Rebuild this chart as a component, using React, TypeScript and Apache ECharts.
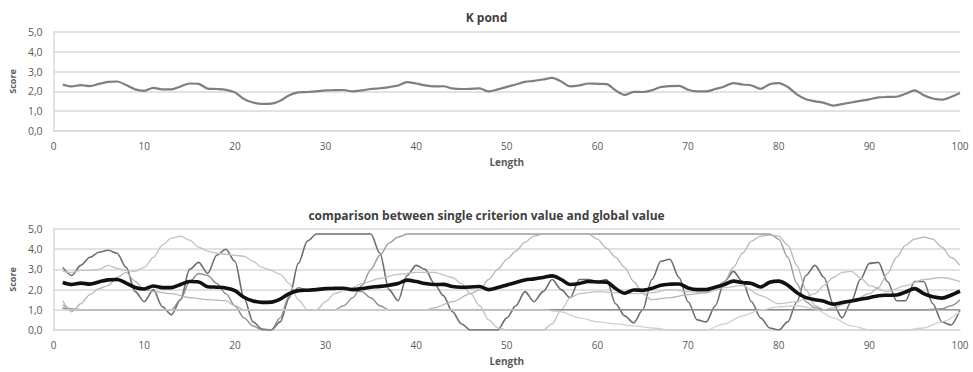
import React, { useEffect, useRef } from "react";
import * as echarts from "echarts";

const xTicks = [0, 10, 20, 30, 40, 50, 60, 70, 80, 90, 100];
const yTicks = [0, 1, 2, 3, 4, 5];

// global value (K pond), one value per length step 1..100
const kPond = [
  2.35, 2.25, 2.32, 2.27, 2.38, 2.48, 2.5, 2.32, 2.1, 2.03,
  2.18, 2.1, 2.1, 2.25, 2.4, 2.38, 2.14, 2.12, 2.08, 1.95,
  1.62, 1.44, 1.37, 1.38, 1.53, 1.8, 1.95, 1.97, 2.0, 2.05,
  2.06, 2.07, 2.0, 2.05, 2.12, 2.16, 2.22, 2.3, 2.47, 2.4,
  2.3, 2.25, 2.26, 2.15, 2.12, 2.13, 2.15, 2.0, 2.1, 2.23,
  2.35, 2.48, 2.53, 2.6, 2.68, 2.5, 2.25, 2.3, 2.4, 2.38,
  2.37, 2.05, 1.82, 1.98, 1.97, 2.06, 2.22, 2.27, 2.28, 2.08,
  2.0, 2.0, 2.12, 2.25, 2.42, 2.35, 2.3, 2.13, 2.36, 2.42,
  2.22, 1.85, 1.6, 1.5, 1.42, 1.28, 1.36, 1.44, 1.52, 1.6,
  1.7, 1.72, 1.73, 1.88, 2.05, 1.8, 1.64, 1.58, 1.72, 1.92,
];

// single criterion values, [length, score]
const critA = [
  [1, 3.1], [2, 2.7], [3, 3.2], [4, 3.6], [5, 3.85], [6, 3.95], [7, 3.8], [8, 3.1], [9, 1.9], [10, 1.4],
  [11, 2.0], [12, 1.15], [13, 0.75], [14, 1.5], [15, 3.0], [16, 3.35], [17, 2.8], [18, 3.7], [19, 4.0], [20, 3.4],
  [21, 1.6], [22, 0.4], [23, 0.05], [24, 0], [25, 0.4], [26, 1.6], [27, 3.3], [28, 4.4], [29, 4.75], [35, 4.75],
  [36, 3.8], [37, 2.0], [38, 1.45], [39, 2.7], [40, 3.2], [41, 3.0], [42, 2.3], [43, 1.7], [44, 0.9], [45, 0.3],
  [46, 0], [49, 0], [50, 0.6], [51, 1.2], [52, 1.9], [53, 1.4], [54, 1.9], [55, 2.5], [56, 2.0], [57, 1.6],
  [58, 2.5], [59, 2.5], [60, 2.4], [61, 2.5], [62, 1.3], [63, 0.7], [64, 0.35], [65, 1.0], [66, 2.5], [67, 3.4],
  [68, 3.5], [69, 2.6], [70, 1.4], [71, 0.5], [72, 0.4], [73, 1.2], [74, 2.4], [75, 2.9], [76, 2.4], [77, 1.4],
  [78, 0.6], [79, 0.1], [80, 0], [81, 0.4], [82, 1.4], [83, 2.7], [84, 3.2], [85, 2.6], [86, 1.3], [87, 0.6],
  [88, 1.4], [89, 2.5], [90, 3.3], [91, 3.35], [92, 2.4], [93, 1.45], [94, 1.45], [95, 2.4], [96, 2.4], [97, 1.3],
  [98, 0.4], [99, 0.25], [100, 1.0],
];
const critB = [
  [1, 2.9], [2, 2.85], [3, 2.95], [4, 2.95], [5, 3.0], [6, 3.2], [7, 3.05], [8, 2.95], [9, 2.9], [10, 3.1],
  [11, 3.6], [12, 4.2], [13, 4.55], [14, 4.65], [15, 4.45], [16, 4.1], [17, 3.9], [18, 3.8], [19, 3.75], [20, 3.7],
  [21, 3.65], [22, 3.4], [23, 3.1], [24, 2.95], [25, 2.75], [26, 2.3], [27, 1.5], [28, 1.0], [29, 1.0], [30, 1.4],
  [31, 1.8], [32, 1.95], [33, 2.1], [34, 2.3], [36, 2.55], [38, 2.75], [40, 2.85], [42, 2.85], [44, 2.6], [45, 2.3],
  [46, 1.8], [47, 1.2], [48, 0.5], [49, 0.1], [50, 0], [54, 0], [55, 0.3], [56, 1.0], [57, 1.6], [58, 1.8],
  [60, 1.9], [62, 1.85], [64, 1.8], [66, 1.85], [68, 2.0], [70, 1.9], [72, 1.85], [74, 2.1], [76, 2.2], [78, 1.7],
  [80, 1.3], [82, 1.4], [84, 1.8], [85, 2.2], [86, 2.6], [87, 2.85], [88, 2.9], [89, 2.6], [90, 2.2], [92, 1.9],
  [94, 2.2], [96, 2.5], [98, 2.6], [100, 2.4],
];
const critC = [
  [1, 1.1], [2, 1.0], [13, 1.0], [14, 1.5], [15, 2.4], [16, 2.8], [17, 2.7], [18, 2.3], [19, 1.8], [20, 1.2],
  [21, 0.6], [22, 0.2], [23, 0], [24, 0], [25, 0.6], [26, 1.7], [27, 2.1], [28, 2.0], [32, 2.05], [34, 1.9],
  [35, 1.6], [36, 1.2], [37, 1.0], [96, 1.0], [98, 1.05], [99, 1.2], [100, 1.5],
];
const critD = [
  [1, 1.25], [2, 1.05], [3, 1.0], [31, 1.0], [32, 1.2], [33, 1.6], [34, 2.2], [35, 3.0], [36, 3.7], [37, 4.3],
  [38, 4.6], [39, 4.75], [79, 4.75], [80, 4.5], [81, 3.6], [82, 2.3], [83, 1.4], [84, 1.1], [85, 1.0], [100, 1.0],
];
const critE = [
  [1, 1.45], [2, 0.9], [3, 1.3], [4, 1.75], [5, 2.05], [6, 2.2], [7, 2.6], [8, 2.85], [9, 2.4], [10, 2.0],
  [11, 1.9], [13, 1.8], [15, 1.6], [17, 1.5], [19, 1.45], [20, 1.2], [21, 1.0], [41, 1.0], [42, 1.1], [44, 1.4],
  [46, 1.8], [47, 2.0], [48, 2.5], [49, 3.0], [50, 3.5], [51, 3.9], [52, 4.35], [53, 4.65], [54, 4.75], [59, 4.75],
  [60, 4.5], [61, 4.05], [62, 3.6], [63, 3.1], [64, 2.4], [65, 1.8], [66, 1.5], [68, 1.6], [70, 1.75], [72, 1.85],
  [73, 2.1], [74, 2.4], [75, 3.1], [76, 3.8], [77, 4.4], [78, 4.65], [79, 4.7], [80, 4.65], [81, 4.2], [82, 3.2],
  [83, 2.0], [84, 1.2], [85, 1.0], [86, 1.1], [88, 1.4], [90, 1.8], [91, 2.1], [92, 2.8], [93, 3.6], [94, 4.2],
  [95, 4.5], [96, 4.6], [97, 4.5], [98, 4.1], [99, 3.6], [100, 3.2],
];
const critF = [
  [1, 1.0], [54, 1.0], [56, 0.9], [58, 0.6], [60, 0.4], [62, 0.3], [64, 0.2], [66, 0.1], [68, 0], [72, 0],
  [74, 0.3], [76, 0.7], [78, 1.0], [80, 1.15], [82, 1.2], [84, 1.05], [86, 0.6], [88, 0.2], [90, 0], [94, 0],
  [96, 0.1], [98, 0.4], [100, 0.9],
];

const criteria = [
  { name: "A", data: critA, color: "#6e6e6e", width: 1.6 },
  { name: "B", data: critB, color: "#c2c2c2", width: 1.3 },
  { name: "C", data: critC, color: "#8c8c8c", width: 1.4 },
  { name: "D", data: critD, color: "#9a9a9a", width: 1.4 },
  { name: "E", data: critE, color: "#b6b6b6", width: 1.3 },
  { name: "F", data: critF, color: "#d0d0d0", width: 1.3 },
];

const FONT = "'Open Sans', sans-serif";
const LABEL = "#595959";
const GRID = "#d9d9d9";

function xAxisFor(gridIndex: number) {
  return {
    type: "value",
    gridIndex,
    min: xTicks[0],
    max: xTicks[xTicks.length - 1],
    interval: 10,
    name: "Length",
    nameLocation: "middle",
    nameGap: 26,
    nameTextStyle: { color: LABEL, fontFamily: FONT, fontSize: 10, fontWeight: "bold" },
    axisLine: { show: true, lineStyle: { color: GRID, width: 1.5 } },
    axisTick: { show: false },
    splitLine: { show: false },
    axisLabel: { color: LABEL, fontFamily: FONT, fontSize: 10, margin: 10 },
  };
}
function yAxisFor(gridIndex: number) {
  return {
    type: "value",
    gridIndex,
    min: yTicks[0],
    max: yTicks[yTicks.length - 1],
    interval: 1,
    name: "Score",
    nameLocation: "middle",
    nameGap: 31,
    nameTextStyle: { color: LABEL, fontFamily: FONT, fontSize: 9, fontWeight: "bold" },
    axisLine: { show: true, lineStyle: { color: GRID, width: 1.5 } },
    axisTick: { show: false },
    splitLine: { show: true, lineStyle: { color: GRID, width: 1.6 } },
    axisLabel: {
      color: LABEL,
      fontFamily: FONT,
      fontSize: 10.5,
      margin: 11,
      formatter: (v: number) => v.toFixed(1).replace(".", ","),
    },
  };
}

export default function App() {
  const ref = useRef<HTMLDivElement>(null);
  useEffect(() => {
    if (!ref.current) return;
    const chart = echarts.init(ref.current, null, { renderer: "svg" });
    const globalData = kPond.map((v, i) => [i + 1, v]);
    chart.setOption({
      animation: false,
      backgroundColor: "#ffffff",
      title: [
        {
          text: "K pond",
          left: "center",
          top: 6,
          textStyle: { fontFamily: FONT, fontSize: 12, fontWeight: "bold", color: "#404040" },
        },
        {
          text: "comparison between single criterion value and global value",
          left: "center",
          top: 204,
          textStyle: { fontFamily: FONT, fontSize: 12, fontWeight: "bold", color: "#404040" },
        },
      ],
      grid: [
        { left: 48, top: 32, width: 912, height: 99 },
        { left: 48, top: 229, width: 912, height: 101 },
      ],
      xAxis: [xAxisFor(0), xAxisFor(1)],
      yAxis: [yAxisFor(0), yAxisFor(1)],
      series: [
        {
          type: "line",
          name: "K pond",
          xAxisIndex: 0,
          yAxisIndex: 0,
          data: globalData,
          showSymbol: false,
          smooth: 0.3,
          lineStyle: { color: "#7f7f7f", width: 2.2 },
        },
        ...criteria.map((c) => ({
          type: "line",
          name: c.name,
          xAxisIndex: 1,
          yAxisIndex: 1,
          data: c.data,
          showSymbol: false,
          smooth: 0.3,
          smoothMonotone: "x",
          lineStyle: { color: c.color, width: c.width },
        })),
        {
          type: "line",
          name: "global",
          xAxisIndex: 1,
          yAxisIndex: 1,
          data: globalData,
          showSymbol: false,
          smooth: 0.3,
          lineStyle: { color: "#111111", width: 3.6 },
        },
      ],
    });
    return () => chart.dispose();
  }, []);
  return (
    <div
      ref={ref}
      style={{ position: "fixed", left: 0, top: 0, width: 973, height: 372, background: "#fff" }}
    />
  );
}
